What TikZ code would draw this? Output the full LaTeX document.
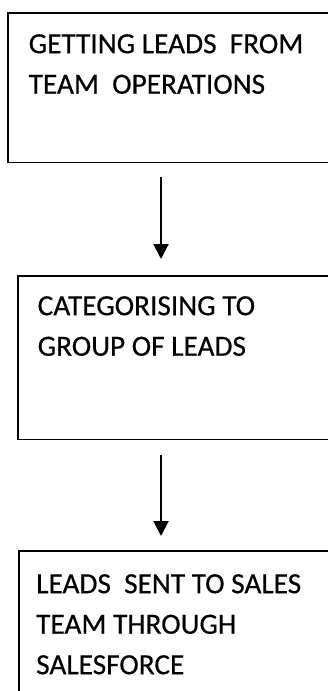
\documentclass[tikz,border=0pt]{standalone}
\usepackage{fontspec}
\setmainfont{Carlito}
\newfontfamily\boxfont{Carlito}[FakeBold=0.4]
\usetikzlibrary{arrows.meta,calc}

\tikzset{
  stepbox/.style={rectangle, inner sep=0pt, anchor=north west, minimum width=420pt},
  boxline/.style={draw=black, line width=1.4pt},
  boxtext/.style={anchor=north west, inner sep=0pt, align=left,
    font=\boxfont\fontsize{29.3}{40.5}\selectfont},
  flowarrow/.style={line width=2pt, -{Triangle[width=15pt,length=15pt]}}
}

\begin{document}
\begin{tikzpicture}[x=1pt,y=1pt]
  \useasboundingbox (0,0) rectangle (328,-691);
  \clip (0,0) rectangle (328,-691);
  \fill[white] (0,0) rectangle (328,-691);

  % arrow column
  \coordinate (ax) at (161,0);

  % boxes (they run past the right edge of the page)
  \node[stepbox, minimum height=149pt] (b1) at (8,-13) {};
  \node[stepbox, minimum height=163pt] (b2) at (18,-276) {};
  \node[stepbox, minimum height=160pt] (b3) at (19,-551) {};
  \foreach \b in {b1,b2,b3}
    \draw[boxline] (\b.north east) -- (\b.north west) -- (\b.south west) -- (\b.south east);

  % box texts
  \node[boxtext] (t1) at (28.5,-34) {GETTING LEADS\ \ FROM\\TEAM\ \ OPERATIONS};
  \node[boxtext] (t2) at (37.5,-296) {CATEGORISING TO\\GROUP OF LEADS};
  \node[boxtext] (t3) at (36,-574) {LEADS\ \ SENT TO SALES\\TEAM THROUGH\\SALESFORCE};

  % connectors
  \draw[flowarrow] ($(b1.south -| ax)+(0,-15)$) -- ($(b2.north -| ax)+(0,17)$);
  \draw[flowarrow] ($(b2.south -| ax)+(0,-16)$) -- ($(b3.north -| ax)+(0,15)$);
\end{tikzpicture}
\end{document}
